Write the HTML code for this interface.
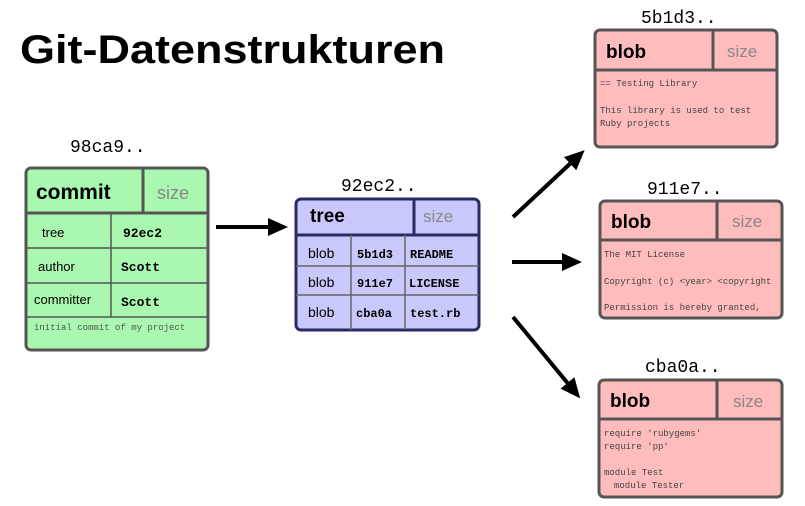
<!DOCTYPE html>
<html><head><meta charset="utf-8"><style>
html,body{margin:0;padding:0;background:#fff;width:805px;height:506px;overflow:hidden}
svg{display:block}
.m{font-family:"Liberation Mono",monospace}
.s{font-family:"Liberation Sans",sans-serif}
</style></head><body>
<svg width="805" height="506" viewBox="0 0 805 506" xmlns="http://www.w3.org/2000/svg">
<defs><marker id="ah" markerWidth="20" markerHeight="20" refX="4" refY="10" orient="auto" markerUnits="userSpaceOnUse" viewBox="0 0 20 20"><path d="M0,1 L20,10 L0,19 z" fill="#000"/></marker></defs>
<text x="20" y="63" class="s" font-weight="bold" font-size="40" textLength="425" lengthAdjust="spacingAndGlyphs">Git-Datenstrukturen</text>

<!-- commit -->
<text x="70" y="152" class="m" font-size="18">98ca9..</text>
<rect x="26" y="168" width="182" height="182" rx="5" fill="#aaf7b0" stroke="#555" stroke-width="3"/>
<g stroke="#555" stroke-width="1.5" fill="none">
<line x1="26" y1="213" x2="208" y2="213" stroke-width="3"/>
<line x1="143" y1="168" x2="143" y2="213" stroke-width="3"/>
<line x1="26" y1="248" x2="208" y2="248"/><line x1="26" y1="283" x2="208" y2="283"/><line x1="26" y1="317" x2="208" y2="317"/>
<line x1="111" y1="213" x2="111" y2="317"/>
</g>
<text x="36" y="199" class="s" font-weight="bold" font-size="21">commit</text>
<text x="157" y="199" class="s" font-size="18" fill="#888">size</text>
<text x="42" y="237" class="s" font-size="13">tree</text>
<text x="123" y="237" class="m" font-size="13" font-weight="bold">92ec2</text>
<text x="38" y="271" class="s" font-size="13">author</text>
<text x="121" y="271" class="m" font-size="13" font-weight="bold">Scott</text>
<text x="34" y="304" class="s" font-size="13">committer</text>
<text x="121" y="306" class="m" font-size="13" font-weight="bold">Scott</text>
<text x="34" y="330" class="m" font-size="9" fill="#555">initial commit of my project</text>

<!-- tree -->
<text x="341" y="191" class="m" font-size="18">92ec2..</text>
<rect x="296" y="199" width="183" height="131" rx="5" fill="#c8c8fb" stroke="#2a2a66" stroke-width="3"/>
<g stroke="#666" stroke-width="1.5">
<line x1="296" y1="235" x2="479" y2="235" stroke="#2a2a66" stroke-width="3"/>
<line x1="414" y1="199" x2="414" y2="235" stroke="#2a2a66" stroke-width="3"/>
<line x1="296" y1="266" x2="479" y2="266"/><line x1="296" y1="295" x2="479" y2="295"/>
<line x1="351" y1="235" x2="351" y2="330"/><line x1="405" y1="235" x2="405" y2="330"/>
</g>
<text x="310" y="222" class="s" font-weight="bold" font-size="19">tree</text>
<text x="423" y="222" class="s" font-size="17" fill="#888">size</text>
<g class="s" font-size="14"><text x="308" y="258">blob</text><text x="308" y="287">blob</text><text x="308" y="317">blob</text></g>
<g class="m" font-size="12" font-weight="bold"><text x="357" y="258">5b1d3</text><text x="357" y="287">911e7</text><text x="356" y="317">cba0a</text>
<text x="410" y="258">README</text><text x="409" y="287">LICENSE</text><text x="410" y="317">test.rb</text></g>

<!-- arrows -->
<g stroke="#000" stroke-width="4" marker-end="url(#ah)">
<line x1="216" y1="227" x2="272" y2="227"/>
<line x1="513" y1="217" x2="573" y2="161"/>
<line x1="512" y1="262" x2="566" y2="262"/>
<line x1="513" y1="317" x2="570" y2="386"/>
</g>

<!-- blob1 -->
<text x="641" y="23" class="m" font-size="18">5b1d3..</text>
<rect x="595" y="30" width="182" height="117" rx="5" fill="#ffbcbc" stroke="#555" stroke-width="3"/>
<line x1="595" y1="70" x2="777" y2="70" stroke="#555" stroke-width="3"/>
<line x1="713" y1="30" x2="713" y2="70" stroke="#555" stroke-width="3"/>
<text x="606" y="58" class="s" font-weight="bold" font-size="19">blob</text>
<text x="727" y="57" class="s" font-size="17" fill="#888">size</text>
<g class="m" font-size="9" fill="#444"><text x="600" y="86">== Testing Library</text><text x="600" y="113">This library is used to test</text><text x="600" y="126">Ruby projects</text></g>

<!-- blob2 -->
<text x="647" y="194" class="m" font-size="18">911e7..</text>
<rect x="600" y="201" width="182" height="117" rx="5" fill="#ffbcbc" stroke="#555" stroke-width="3"/>
<line x1="600" y1="240" x2="782" y2="240" stroke="#555" stroke-width="3"/>
<line x1="717" y1="201" x2="717" y2="240" stroke="#555" stroke-width="3"/>
<text x="611" y="228" class="s" font-weight="bold" font-size="19">blob</text>
<text x="732" y="227" class="s" font-size="17" fill="#888">size</text>
<g class="m" font-size="9" fill="#444"><text x="604" y="257">The MIT License</text><text x="604" y="284">Copyright (c) &lt;year&gt; &lt;copyright</text><text x="604" y="310">Permission is hereby granted,</text></g>

<!-- blob3 -->
<text x="645" y="372" class="m" font-size="18">cba0a..</text>
<rect x="599" y="380" width="183" height="117" rx="5" fill="#ffbcbc" stroke="#555" stroke-width="3"/>
<line x1="599" y1="419" x2="782" y2="419" stroke="#555" stroke-width="3"/>
<line x1="717" y1="380" x2="717" y2="419" stroke="#555" stroke-width="3"/>
<text x="610" y="407" class="s" font-weight="bold" font-size="19">blob</text>
<text x="733" y="407" class="s" font-size="17" fill="#888">size</text>
<g class="m" font-size="9" fill="#444"><text x="604" y="436">require 'rubygems'</text><text x="604" y="449">require 'pp'</text><text x="604" y="475">module Test</text><text x="614" y="488">module Tester</text></g>
</svg>
</body></html>
